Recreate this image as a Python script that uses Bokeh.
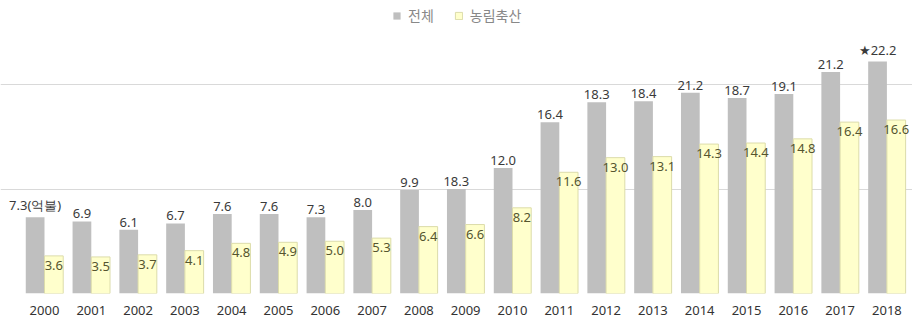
from bokeh.plotting import figure
from bokeh.models import (ColumnDataSource, Range1d, FixedTicker, LabelSet,
                          Legend, LegendItem)
from bokeh.core.properties import value
from bokeh.transform import dodge
from bokeh.embed import file_html
from bokeh.resources import INLINE

# ---- data ----
years = ["2000", "2001", "2002", "2003", "2004", "2005", "2006", "2007", "2008", "2009",
         "2010", "2011", "2012", "2013", "2014", "2015", "2016", "2017", "2018"]
total_values = [7.3, 6.9, 6.1, 6.7, 7.6, 7.6, 7.3, 8.0, 9.9, 10.0,
                12.0, 16.4, 18.3, 18.4, 19.2, 18.7, 19.1, 21.2, 22.2]
total_labels = ["7.3(억불)", "6.9", "6.1", "6.7", "7.6", "7.6", "7.3", "8.0", "9.9", "18.3",
                "12.0", "16.4", "18.3", "18.4", "21.2", "18.7", "19.1", "21.2", "★22.2"]
agri_values = [3.6, 3.5, 3.7, 4.1, 4.8, 4.9, 5.0, 5.3, 6.4, 6.6,
               8.2, 11.6, 13.0, 13.1, 14.3, 14.4, 14.8, 16.4, 16.6]
agri_labels = ["3.6", "3.5", "3.7", "4.1", "4.8", "4.9", "5.0", "5.3", "6.4", "6.6",
               "8.2", "11.6", "13.0", "13.1", "14.3", "14.4", "14.8", "16.4", "16.6"]
series_names = ["전체", "농림축산"]

FONT = "Noto Sans"
CJK = "Noto Sans CJK KR"
GRAY = "#bfbfbf"
YELLOW = "#ffffcc"
YELLOW_EDGE = "#dcdcaa"

xs = list(range(len(years)))
src = ColumnDataSource(dict(x=xs, total=total_values, total_lab=total_labels,
                            agri=agri_values, agri_lab=agri_labels))

W, H = 912, 317
p = figure(width=W, height=H, output_backend="svg", toolbar_location=None,
           x_range=Range1d(-0.94, 18.547), y_range=Range1d(0, 28.04),
           min_border_left=0, min_border_right=0, min_border_top=0,
           min_border_bottom=24)
p.outline_line_color = None
p.background_fill_color = "white"

r_total = p.vbar(x=dodge("x", -0.2, range=p.x_range), top="total", width=0.4,
                 bottom=0, source=src, fill_color=GRAY, line_color=None)
r_agri = p.vbar(x=dodge("x", 0.2, range=p.x_range), top="agri", width=0.4,
                bottom=0, source=src, fill_color=YELLOW, line_color=YELLOW_EDGE,
                line_width=1)

# grid
p.xgrid.visible = False
p.ygrid.ticker = FixedTicker(ticks=[0, 10, 20])
p.ygrid.grid_line_color = "#d9d9d9"
p.ygrid.grid_line_width = 1

# axes
p.yaxis.visible = False
p.xaxis.ticker = FixedTicker(ticks=xs)
p.xaxis.major_label_overrides = {i: y for i, y in zip(xs, years)}
p.xaxis.axis_line_color = None
p.xaxis.major_tick_line_color = None
p.xaxis.minor_tick_line_color = None
p.xaxis.major_label_standoff = 6
p.xaxis.major_label_text_font = FONT
p.xaxis.major_label_text_font_size = "13px"
p.xaxis.major_label_text_color = "#333333"

# value labels
lab_total = LabelSet(x=dodge("x", -0.2, range=p.x_range), y="total", text="total_lab",
                     source=src, text_align="center", text_baseline="bottom",
                     y_offset=3, text_font=value(FONT), text_font_size=value("13px"),
                     text_color=value("#3a3a3a"))
lab_agri = LabelSet(x=dodge("x", 0.2, range=p.x_range), y="agri", text="agri_lab",
                    source=src, text_align="center", text_baseline="top",
                    y_offset=-5, text_font=value(FONT), text_font_size=value("13px"),
                    text_color=value("#55552f"))
p.add_layout(lab_total)
p.add_layout(lab_agri)

legend = Legend(items=[LegendItem(label=series_names[0], renderers=[r_total]),
                       LegendItem(label=series_names[1], renderers=[r_agri])],
                location=(392, 268), orientation="horizontal",
                background_fill_alpha=0, border_line_color=None,
                label_text_font=CJK, label_text_font_size="14px",
                label_text_color="#888888", glyph_width=9, glyph_height=9,
                label_standoff=7, spacing=20, padding=0, margin=0)
p.add_layout(legend)

open("out.html", "w").write(file_html(p, INLINE))
